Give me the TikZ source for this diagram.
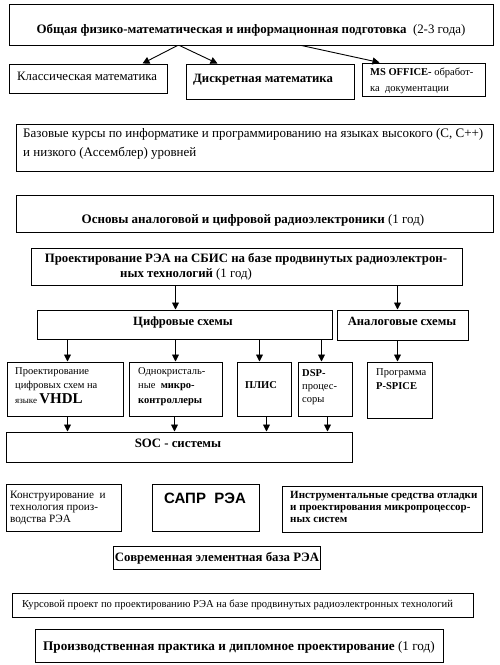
\documentclass[tikz,border=0pt]{standalone}
\usepackage{fontspec}
\setmainfont{Liberation Serif}
\newfontfamily\sansbold{Liberation Sans}
\usetikzlibrary{arrows.meta,fit}
\newcommand\fs[1]{\fontsize{#1}{#1}\selectfont}
\begin{document}
\begin{tikzpicture}[x=1pt,y=-1pt,
  box/.style={draw, line width=1pt, inner sep=0pt},
  txt/.style={inner sep=0pt, anchor=base west},
  ctxt/.style={inner sep=0pt, anchor=base},
  arr/.style={line width=0.9pt, -{Triangle[length=7pt,width=7pt]}}]
\useasboundingbox (0,0) rectangle (500,665);
% boxes
\node[box, fit={(9,4)(493,45)}] (top) {};
\node[box, fit={(9,64)(167,93)}] (klass) {};
\node[box, fit={(186,64)(354,99)}] (disc) {};
\node[box, fit={(362,63)(485,96)}] (ms) {};
\node[box, fit={(16,124)(493,171)}] (baz) {};
\node[box, fit={(16,195)(493,232)}] (osn) {};
\node[box, fit={(31,248)(462,285)}] (proj) {};
\node[box, fit={(37,310)(332,339)}] (cif) {};
\node[box, fit={(337,310)(468,340)}] (anal) {};
\node[box, fit={(7,362)(123,416)}] (vhdl) {};
\node[box, fit={(129,362)(222,416)}] (mcu) {};
\node[box, fit={(237,362)(291,416)}] (plis) {};
\node[box, fit={(298,362)(352,416)}] (dsp) {};
\node[box, fit={(367,362)(432,418)}] (psp) {};
\node[box, fit={(6,432)(352,462)}] (soc) {};
\node[box, fit={(6,484)(121,531)}] (kons) {};
\node[box, fit={(152,484)(259,531)}] (sapr) {};
\node[box, fit={(282,486)(482,532)}] (instr) {};
\node[box, fit={(113,546)(320,569)}] (sovr) {};
\node[box, fit={(12,593)(473,617)}] (kurs) {};
\node[box, fit={(35,629)(443,662)}] (prak) {};
% texts
\node[ctxt] (t-top) at (251,33) {\fs{12.9}\textbf{Общая физико-математическая и информационная подготовка}\ \ (2-3 года)};
\node[txt] (t-klass) at (17,80) {\fs{12.8}Классическая математика};
\node[txt] (t-disc) at (193,82) {\fs{12.7}\textbf{Дискретная математика}};
\node[txt] (t-ms1) at (370,75) {\fs{10.5}\textbf{MS OFFICE-} обработ-};
\node[txt] (t-ms2) at (370,91) {\fs{10.5}ка\ \ документации};
\node[txt] (t-baz1) at (23,137) {\fs{13}Базовые курсы по информатике и программированию на языках высокого (C, C++)};
\node[txt] (t-baz2) at (23,156) {\fs{13}и низкого (Ассемблер) уровней};
\node[ctxt] (t-osn) at (253,223) {\fs{13}\textbf{Основы аналоговой и цифровой радиоэлектроники} (1 год)};
\node[ctxt] (t-proj1) at (246,262) {\fs{12.8}\textbf{Проектирование РЭА на СБИС на базе продвинутых радиоэлектрон-}};
\node[txt] (t-proj2) at (120,277) {\fs{12.8}\textbf{ных технологий} (1 год)};
\node[ctxt] (t-cif) at (183,325) {\fs{12.6}\textbf{Цифровые схемы}};
\node[ctxt] (t-anal) at (402,325) {\fs{12.6}\textbf{Аналоговые схемы}};
\node[txt] (t-vhdl1) at (15,374) {\fs{10.5}Проектирование};
\node[txt] (t-vhdl2) at (15,388) {\fs{10.5}цифровых схем на};
\node[txt] (t-vhdl3) at (15,403) {\fs{9}языке \fs{15}\textbf{VHDL}};
\node[txt] (t-mcu1) at (138,374) {\fs{10.5}Однокристаль-};
\node[txt] (t-mcu2) at (138,388) {\fs{10.5}ные\ \ \textbf{микро-}};
\node[txt] (t-mcu3) at (138,403) {\fs{10.5}\textbf{контроллеры}};
\node[txt] (t-plis) at (245,388) {\fs{10.5}\textbf{ПЛИС}};
\node[txt] (t-dsp1) at (302,376) {\fs{10.5}\textbf{DSP-}};
\node[txt] (t-dsp2) at (302,389) {\fs{10.5}процес-};
\node[txt] (t-dsp3) at (302,402) {\fs{10.5}соры};
\node[txt] (t-psp1) at (376,375) {\fs{10.5}Программа};
\node[txt] (t-psp2) at (376,389) {\fs{10.5}\textbf{P-SPICE}};
\node[ctxt] (t-soc) at (178,447) {\fs{12.8}\textbf{SOC - системы}};
\node[txt] (t-kons1) at (10,498) {\fs{11.2}Конструирование\ \ и};
\node[txt] (t-kons2) at (10,510) {\fs{11.2}технология произ-};
\node[txt] (t-kons3) at (10,522) {\fs{11.2}водства РЭА};
\node[ctxt] (t-sapr) at (205,503) {\fs{15}\sansbold\bfseries САПР\ \ РЭА};
\node[txt] (t-instr1) at (290,498) {\fs{11}\textbf{Инструментальные средства отладки}};
\node[txt] (t-instr2) at (290,510) {\fs{11}\textbf{и проектирования микропроцессор-}};
\node[txt] (t-instr3) at (290,522) {\fs{11}\textbf{ных систем}};
\node[ctxt] (t-sovr) at (217,561) {\fs{12.8}\textbf{Современная элементная база РЭА}};
\node[txt] (t-kurs) at (22,607) {\fs{10.6}Курсовой проект по проектированию РЭА на базе продвинутых радиоэлектронных технологий};
\node[ctxt] (t-prak) at (239,650) {\fs{13.2}\textbf{Производственная практика и дипломное проектирование} (1 год)};
% arrows
\draw[arr] ([xshift=169pt]top.south west) -- ([xshift=134pt]klass.north west);
\draw[arr] ([xshift=171pt]top.south west) -- ([xshift=32pt]disc.north west);
\draw[arr] ([xshift=293pt]top.south west) -- ([xshift=18pt]ms.north west);
\draw[arr] ([xshift=145pt]proj.south west) -- ([xshift=139pt]cif.north west);
\draw[arr] ([xshift=367pt]proj.south west) -- ([xshift=61pt]anal.north west);
\draw[arr] ([xshift=31pt]cif.south west) -- ([xshift=61pt]vhdl.north west);
\draw[arr] ([xshift=139pt]cif.south west) -- ([xshift=47pt]mcu.north west);
\draw[arr] ([xshift=223pt]cif.south west) -- ([xshift=23pt]plis.north west);
\draw[arr] ([xshift=285pt]cif.south west) -- ([xshift=24pt]dsp.north west);
\draw[arr] ([xshift=61pt]anal.south west) -- ([xshift=31pt]psp.north west);
\draw[arr] ([xshift=61pt]vhdl.south west) -- ([xshift=62pt]soc.north west);
\draw[arr] ([xshift=46pt]mcu.south west) -- ([xshift=169pt]soc.north west);
\draw[arr] ([xshift=30pt]plis.south west) -- ([xshift=261pt]soc.north west);
\draw[arr] ([xshift=30pt]dsp.south west) -- ([xshift=322pt]soc.north west);
\end{tikzpicture}
\end{document}
